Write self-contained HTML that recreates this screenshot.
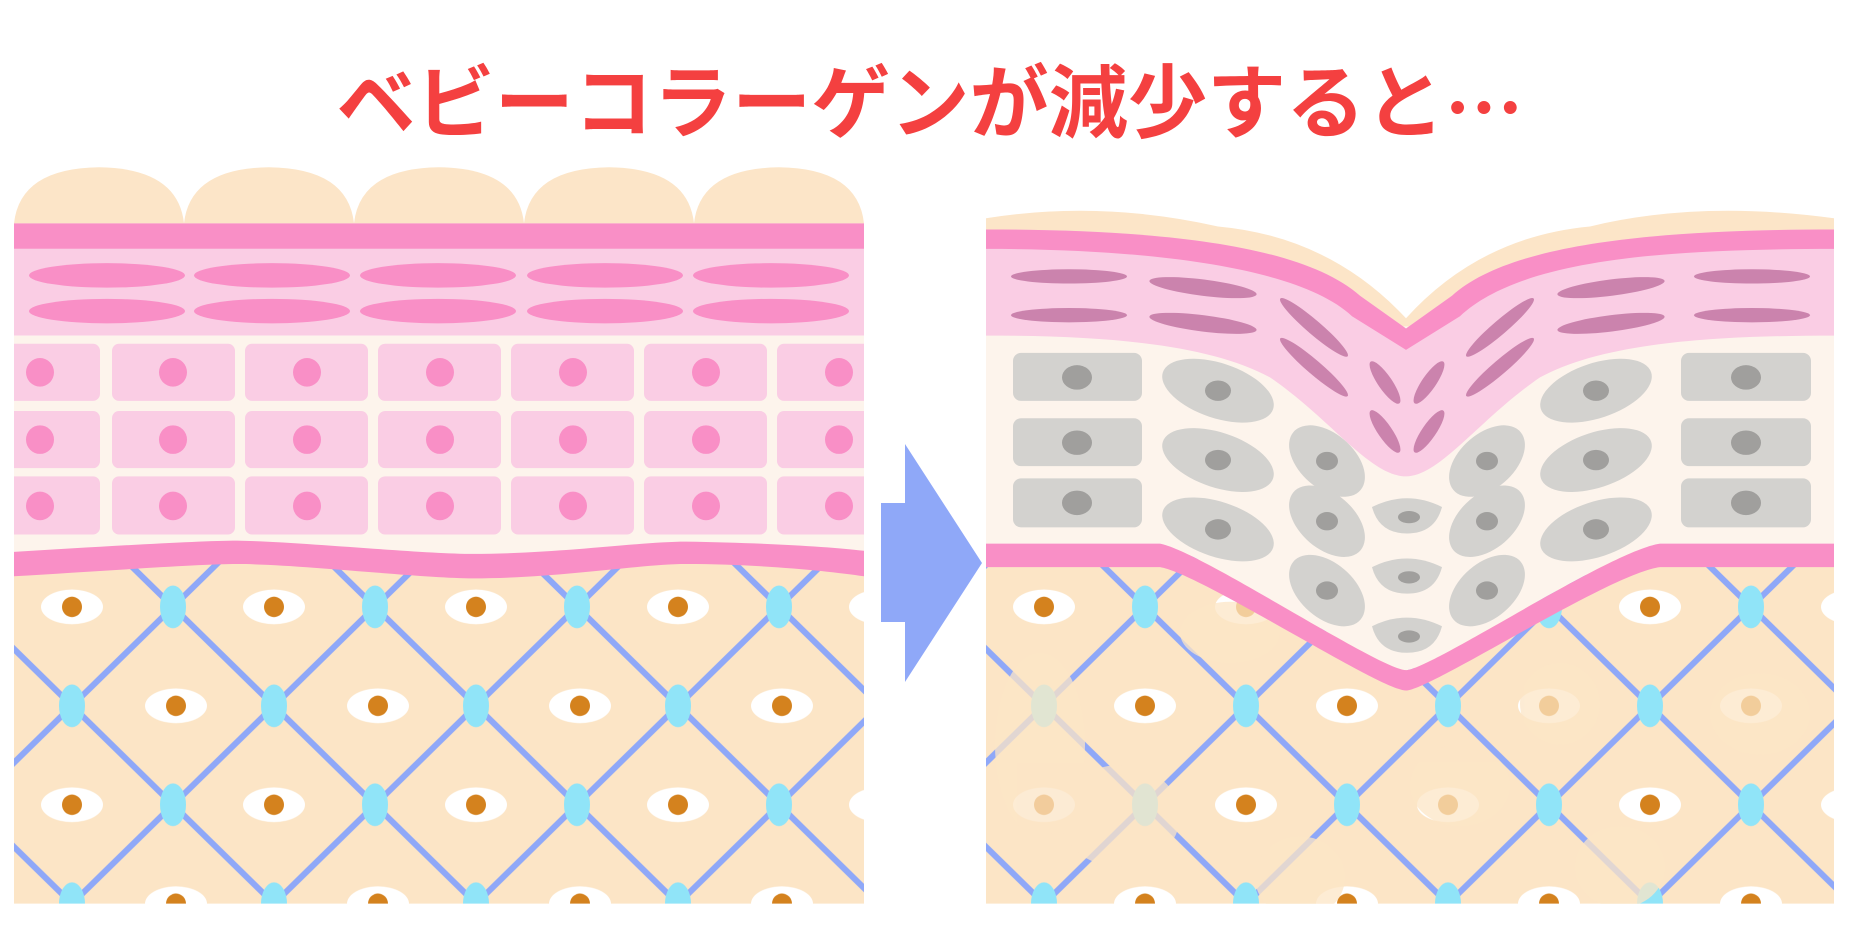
<!DOCTYPE html>
<html><head><meta charset="utf-8"><style>html,body{margin:0;padding:0;background:#fff}svg{display:block}</style></head>
<body>
<svg width="1857" height="946" viewBox="0 0 1857 946" xmlns="http://www.w3.org/2000/svg">
<defs>
<pattern id="latL" patternUnits="userSpaceOnUse" x="173" y="595" width="202" height="194">
<rect width="202" height="194" fill="#fce5c6"/>
<line x1="0" y1="0" x2="202" y2="194" stroke="#8fa8f8" stroke-width="6"/>
<line x1="202" y1="0" x2="0" y2="194" stroke="#8fa8f8" stroke-width="6"/>
<g fill="#90e4f8"><ellipse cx="0" cy="0" rx="13" ry="21"/><ellipse cx="202" cy="0" rx="13" ry="21"/><ellipse cx="0" cy="194" rx="13" ry="21"/><ellipse cx="202" cy="194" rx="13" ry="21"/><ellipse cx="101" cy="97" rx="13" ry="21"/></g>
<g><ellipse cx="101" cy="0" rx="31" ry="17" fill="#fff"/><circle cx="101" cy="0" r="10" fill="#d4821e"/>
<ellipse cx="101" cy="194" rx="31" ry="17" fill="#fff"/><circle cx="101" cy="194" r="10" fill="#d4821e"/>
<ellipse cx="3" cy="97" rx="31" ry="17" fill="#fff"/><circle cx="3" cy="97" r="10" fill="#d4821e"/>
<ellipse cx="205" cy="97" rx="31" ry="17" fill="#fff"/><circle cx="205" cy="97" r="10" fill="#d4821e"/></g>
</pattern>
<pattern id="latR" patternUnits="userSpaceOnUse" x="1145" y="595" width="202" height="194">
<rect width="202" height="194" fill="#fce5c6"/>
<line x1="0" y1="0" x2="202" y2="194" stroke="#8fa8f8" stroke-width="6"/>
<line x1="202" y1="0" x2="0" y2="194" stroke="#8fa8f8" stroke-width="6"/>
<g fill="#90e4f8"><ellipse cx="0" cy="0" rx="13" ry="21"/><ellipse cx="202" cy="0" rx="13" ry="21"/><ellipse cx="0" cy="194" rx="13" ry="21"/><ellipse cx="202" cy="194" rx="13" ry="21"/><ellipse cx="101" cy="97" rx="13" ry="21"/></g>
<g><ellipse cx="101" cy="0" rx="31" ry="17" fill="#fff"/><circle cx="101" cy="0" r="10" fill="#d4821e"/>
<ellipse cx="101" cy="194" rx="31" ry="17" fill="#fff"/><circle cx="101" cy="194" r="10" fill="#d4821e"/>
<ellipse cx="0" cy="97" rx="31" ry="17" fill="#fff"/><circle cx="0" cy="97" r="10" fill="#d4821e"/>
<ellipse cx="202" cy="97" rx="31" ry="17" fill="#fff"/><circle cx="202" cy="97" r="10" fill="#d4821e"/></g>
</pattern>
<clipPath id="cR"><rect x="986" y="150" width="848" height="736"/></clipPath>
<clipPath id="cL"><rect x="14" y="150" width="850" height="736"/></clipPath>
</defs>

<text x="930" y="104" text-anchor="middle" dominant-baseline="central" font-family="'Liberation Sans','Noto Sans CJK JP',sans-serif" font-weight="700" font-size="80" fill="#f44040" textLength="1187" lengthAdjust="spacingAndGlyphs">ベビーコラーゲンが減少すると<tspan font-family="'Noto Sans CJK JP',sans-serif">…</tspan></text>

<g transform="scale(1,1.02)">
<!-- LEFT PANEL -->
<g clip-path="url(#cL)">
<rect x="14" y="540" width="850" height="346" fill="url(#latL)"/>
<g fill="#fce5c8">
<path d="M14,219 Q20,165 99,164 Q178,165 184,219 Z"/>
<path d="M184,219 Q190,165 269,164 Q348,165 354,219 Z"/>
<path d="M354,219 Q360,165 439,164 Q518,165 524,219 Z"/>
<path d="M524,219 Q530,165 609,164 Q688,165 694,219 Z"/>
<path d="M694,219 Q700,165 779,164 Q858,165 864,219 Z"/>
</g>
<rect x="14" y="219" width="850" height="25" fill="#f98fc6"/>
<rect x="14" y="244" width="850" height="85" fill="#facde4"/>
<g fill="#f98fc6">
<ellipse cx="107" cy="270" rx="78" ry="12"/><ellipse cx="272" cy="270" rx="78" ry="12"/><ellipse cx="438" cy="270" rx="78" ry="12"/><ellipse cx="605" cy="270" rx="78" ry="12"/><ellipse cx="771" cy="270" rx="78" ry="12"/>
<ellipse cx="107" cy="305" rx="78" ry="12"/><ellipse cx="272" cy="305" rx="78" ry="12"/><ellipse cx="438" cy="305" rx="78" ry="12"/><ellipse cx="605" cy="305" rx="78" ry="12"/><ellipse cx="771" cy="305" rx="78" ry="12"/>
</g>
<rect x="14" y="329" width="850" height="220" fill="#fdf4ec"/>
<g fill="#facde4">
<rect x="4" y="337" width="96" height="56" rx="7"/><rect x="112" y="337" width="123" height="56" rx="7"/><rect x="245" y="337" width="123" height="56" rx="7"/><rect x="378" y="337" width="123" height="56" rx="7"/><rect x="511" y="337" width="123" height="56" rx="7"/><rect x="644" y="337" width="123" height="56" rx="7"/><rect x="777" y="337" width="100" height="56" rx="7"/>
<rect x="4" y="403" width="96" height="56" rx="7"/><rect x="112" y="403" width="123" height="56" rx="7"/><rect x="245" y="403" width="123" height="56" rx="7"/><rect x="378" y="403" width="123" height="56" rx="7"/><rect x="511" y="403" width="123" height="56" rx="7"/><rect x="644" y="403" width="123" height="56" rx="7"/><rect x="777" y="403" width="100" height="56" rx="7"/>
<rect x="4" y="467" width="96" height="57" rx="7"/><rect x="112" y="467" width="123" height="57" rx="7"/><rect x="245" y="467" width="123" height="57" rx="7"/><rect x="378" y="467" width="123" height="57" rx="7"/><rect x="511" y="467" width="123" height="57" rx="7"/><rect x="644" y="467" width="123" height="57" rx="7"/><rect x="777" y="467" width="100" height="57" rx="7"/>
</g>
<g fill="#f98fc6">
<circle cx="40" cy="365" r="14"/><circle cx="173" cy="365" r="14"/><circle cx="307" cy="365" r="14"/><circle cx="440" cy="365" r="14"/><circle cx="573" cy="365" r="14"/><circle cx="706" cy="365" r="14"/><circle cx="839" cy="365" r="14"/>
<circle cx="40" cy="431" r="14"/><circle cx="173" cy="431" r="14"/><circle cx="307" cy="431" r="14"/><circle cx="440" cy="431" r="14"/><circle cx="573" cy="431" r="14"/><circle cx="706" cy="431" r="14"/><circle cx="839" cy="431" r="14"/>
<circle cx="40" cy="496" r="14"/><circle cx="173" cy="496" r="14"/><circle cx="307" cy="496" r="14"/><circle cx="440" cy="496" r="14"/><circle cx="573" cy="496" r="14"/><circle cx="706" cy="496" r="14"/><circle cx="839" cy="496" r="14"/>
</g>
<path d="M14,541 C100,536 200,530 237,530 C300,531 420,543 473,543 C560,543 640,531 686,531 C760,532 830,536 864,540 L864,565 C830,560 760,553 686,553 C640,553 560,567 473,567 C420,567 300,553 237,553 C200,553 100,560 14,565 Z" fill="#f98fc6"/>
</g>

<!-- RIGHT PANEL -->
<g clip-path="url(#cR)">
<rect x="986" y="540" width="848" height="346" fill="url(#latR)"/>
<g fill="#fce5c6" opacity="0.75">
<ellipse cx="1040" cy="730" rx="45" ry="90"/><ellipse cx="1120" cy="800" rx="60" ry="50"/><ellipse cx="1300" cy="860" rx="45" ry="40"/><ellipse cx="1460" cy="770" rx="50" ry="40"/><ellipse cx="1560" cy="690" rx="40" ry="40"/><ellipse cx="1760" cy="700" rx="50" ry="40"/><ellipse cx="1620" cy="850" rx="45" ry="40"/><ellipse cx="1230" cy="620" rx="50" ry="30"/>
</g>
<path d="M986,330 L986,214 Q1100,196 1218,222 Q1330,232 1406,312 Q1480,232 1590,222 Q1700,196 1834,214 L1834,330 Z" fill="#fce5c8"/>
<path d="M986,320 L1834,320 L1834,533 L1660,533 C1610,540 1430,657 1406,657 C1380,657 1200,540 1160,533 L986,533 Z" fill="#fdf4ec"/>
<path d="M986,225 C1150,225 1300,238 1360,290 L1406,322 L1452,290 C1510,238 1660,225 1834,225 L1834,329 C1700,329 1600,338 1540,370 C1480,410 1440,467 1406,467 C1370,467 1330,410 1270,370 C1210,338 1110,329 986,329 Z" fill="#facde4"/>
<path d="M986,225 C1150,225 1300,238 1360,290 L1406,322 L1452,290 C1510,238 1660,225 1834,225 L1834,244 C1660,244 1520,255 1460,310 L1406,343 L1352,310 C1300,262 1150,244 986,244 Z" fill="#f98fc6"/>
<g fill="#cb83ad">
<ellipse cx="1069" cy="271" rx="58" ry="7"/><ellipse cx="1069" cy="309" rx="58" ry="7"/>
<ellipse cx="1752" cy="271" rx="58" ry="7"/><ellipse cx="1752" cy="309" rx="58" ry="7"/>
<ellipse cx="1203" cy="282" rx="54" ry="8" transform="rotate(7 1203 282)"/><ellipse cx="1203" cy="317" rx="54" ry="8" transform="rotate(7 1203 317)"/>
<ellipse cx="1611" cy="282" rx="54" ry="8" transform="rotate(-7 1611 282)"/><ellipse cx="1611" cy="317" rx="54" ry="8" transform="rotate(-7 1611 317)"/>
<ellipse cx="1314" cy="321" rx="44" ry="7" transform="rotate(40 1314 321)"/><ellipse cx="1314" cy="360" rx="44" ry="7" transform="rotate(40 1314 360)"/>
<ellipse cx="1500" cy="321" rx="44" ry="7" transform="rotate(-40 1500 321)"/><ellipse cx="1500" cy="360" rx="44" ry="7" transform="rotate(-40 1500 360)"/>
<ellipse cx="1385" cy="375" rx="25" ry="7" transform="rotate(55 1385 375)"/><ellipse cx="1385" cy="423" rx="25" ry="7" transform="rotate(55 1385 423)"/>
<ellipse cx="1429" cy="375" rx="25" ry="7" transform="rotate(-55 1429 375)"/><ellipse cx="1429" cy="423" rx="25" ry="7" transform="rotate(-55 1429 423)"/>
</g>
<g fill="#d3d2cf">
<rect x="1013" y="346" width="129" height="47" rx="8"/><rect x="1013" y="410" width="129" height="47" rx="8"/><rect x="1013" y="469" width="129" height="48" rx="8"/>
<rect x="1681" y="346" width="130" height="47" rx="8"/><rect x="1681" y="410" width="130" height="47" rx="8"/><rect x="1681" y="469" width="130" height="48" rx="8"/>
<ellipse cx="1218" cy="383" rx="58" ry="27" transform="rotate(18 1218 383)"/><ellipse cx="1218" cy="451" rx="58" ry="27" transform="rotate(18 1218 451)"/><ellipse cx="1218" cy="519" rx="58" ry="27" transform="rotate(18 1218 519)"/>
<ellipse cx="1596" cy="383" rx="58" ry="27" transform="rotate(-18 1596 383)"/><ellipse cx="1596" cy="451" rx="58" ry="27" transform="rotate(-18 1596 451)"/><ellipse cx="1596" cy="519" rx="58" ry="27" transform="rotate(-18 1596 519)"/>
<ellipse cx="1327" cy="452" rx="44" ry="27" transform="rotate(40 1327 452)"/><ellipse cx="1327" cy="511" rx="44" ry="27" transform="rotate(40 1327 511)"/><ellipse cx="1327" cy="579" rx="44" ry="27" transform="rotate(40 1327 579)"/>
<ellipse cx="1487" cy="452" rx="44" ry="27" transform="rotate(-40 1487 452)"/><ellipse cx="1487" cy="511" rx="44" ry="27" transform="rotate(-40 1487 511)"/><ellipse cx="1487" cy="579" rx="44" ry="27" transform="rotate(-40 1487 579)"/>
<path d="M1372,497 Q1407,480 1442,497 Q1435,523 1407,523 Q1379,523 1372,497 Z"/>
<path d="M1372,556 Q1407,539 1442,556 Q1435,582 1407,582 Q1379,582 1372,556 Z"/>
<path d="M1372,614 Q1407,597 1442,614 Q1435,640 1407,640 Q1379,640 1372,614 Z"/>
</g>
<g fill="#a09f9d">
<ellipse cx="1077" cy="370" rx="15" ry="12"/><ellipse cx="1077" cy="434" rx="15" ry="12"/><ellipse cx="1077" cy="493" rx="15" ry="12"/>
<ellipse cx="1746" cy="370" rx="15" ry="12"/><ellipse cx="1746" cy="434" rx="15" ry="12"/><ellipse cx="1746" cy="493" rx="15" ry="12"/>
<ellipse cx="1218" cy="383" rx="13" ry="10"/><ellipse cx="1218" cy="451" rx="13" ry="10"/><ellipse cx="1218" cy="519" rx="13" ry="10"/>
<ellipse cx="1596" cy="383" rx="13" ry="10"/><ellipse cx="1596" cy="451" rx="13" ry="10"/><ellipse cx="1596" cy="519" rx="13" ry="10"/>
<ellipse cx="1327" cy="452" rx="11" ry="9"/><ellipse cx="1327" cy="511" rx="11" ry="9"/><ellipse cx="1327" cy="579" rx="11" ry="9"/>
<ellipse cx="1487" cy="452" rx="11" ry="9"/><ellipse cx="1487" cy="511" rx="11" ry="9"/><ellipse cx="1487" cy="579" rx="11" ry="9"/>
<ellipse cx="1409" cy="507" rx="11" ry="6"/><ellipse cx="1409" cy="566" rx="11" ry="6"/><ellipse cx="1409" cy="624" rx="11" ry="6"/>
</g>
<path d="M986,533 L1160,533 C1200,540 1380,657 1406,657 C1430,657 1610,540 1660,533 L1834,533 L1834,556 L1660,556 C1610,562 1430,677 1406,677 C1380,677 1200,562 1160,556 L986,556 Z" fill="#f98fc6"/>
</g>
</g>

<!-- ARROW -->
<path d="M881,503 L905,503 L905,444 L982,563 L905,682 L905,622 L881,622 Z" fill="#8fa8f8"/>
</svg>
</body></html>
